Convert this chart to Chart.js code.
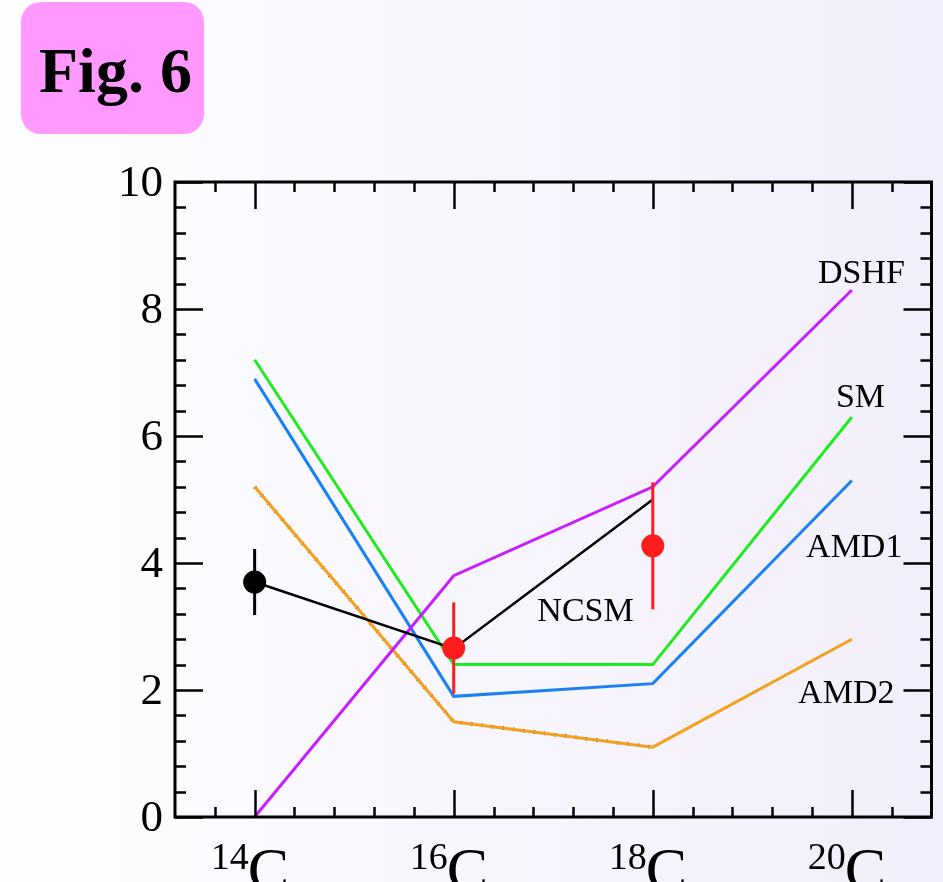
<!DOCTYPE html>
<html>
<head>
<meta charset="utf-8">
<script src="https://cdn.jsdelivr.net/npm/chart.js@4.4.0/dist/chart.umd.min.js"></script>
<style>
  html, body { margin: 0; padding: 0; background: #ffffff; }
  #wrap { width: 943px; height: 882px; }
</style>
</head>
<body>
<div id="wrap"><canvas id="chart" width="943" height="882"></canvas></div>
<script>
// isotopes on the x axis (mass number of C)
const nuclei = [14, 16, 18, 20];
const element = 'C';

// theory curves
const dshf = [0, 3.8, 5.2, 8.3];
const sm = [7.2, 2.4, 2.4, 6.3];
const amd1 = [6.9, 1.9, 2.1, 5.3];
const amd2 = [5.2, 1.5, 1.1, 2.8];
const amd2Shadow = [5.2, 1.5, 1.1];
const ncsm = [3.7, 2.65, 5.0];

// experiment
const expX = [14, 16, 18];
const expY = [3.7, 2.66, 4.27];
const expErr = [0.52, 0.72, 1.0];
const expColors = ['#000000', '#ff1c1c', '#ff1c1c'];

// axis ticks
const yMajor = [0, 2, 4, 6, 8, 10];
const xMin = 13.2, xMax = 20.8, yMin = 0, yMax = 10;

const pts = (xs, ys) => ys.map((v, i) => ({ x: xs[i], y: v }));
const serif = '"Liberation Serif", "Times New Roman", serif';

// curve labels, anchored in data coords (left edge, baseline)
const curveLabels = [
  { text: 'DSHF', x: 19.66, y: 8.41 },
  { text: 'SM', x: 19.84, y: 6.46 },
  { text: 'AMD1', x: 19.54, y: 4.09 },
  { text: 'AMD2', x: 19.46, y: 1.80 },
  { text: 'NCSM', x: 16.84, y: 3.09 },
];

const figPlugin = {
  id: 'fig',
  beforeDraw(chart) {
    const { ctx, width, height } = chart;
    ctx.save();
    const g = ctx.createLinearGradient(0, 0, width, 0);
    g.addColorStop(0, '#fefeff');
    g.addColorStop(1, '#f2eefb');
    ctx.fillStyle = g;
    ctx.fillRect(0, 0, width, height);

    // Fig. 6 badge
    const bx = 21, by = 2, bw = 183, bh = 132, r = 20;
    ctx.fillStyle = '#ff99ff';
    ctx.beginPath();
    ctx.moveTo(bx + r, by);
    ctx.arcTo(bx + bw, by, bx + bw, by + bh, r);
    ctx.arcTo(bx + bw, by + bh, bx, by + bh, r);
    ctx.arcTo(bx, by + bh, bx, by, r);
    ctx.arcTo(bx, by, bx + bw, by, r);
    ctx.closePath();
    ctx.fill();
    ctx.fillStyle = '#000';
    ctx.font = 'bold 64px ' + serif;
    ctx.textAlign = 'left';
    ctx.textBaseline = 'alphabetic';
    ctx.fillText('Fig. 6', 39, 92);
    ctx.restore();
  },
  beforeDatasetDraw(chart, args) {
    if (args.index !== 0) return;
    const { ctx } = chart;
    const xs = chart.scales.x, ys = chart.scales.y;
    ctx.save();
    ctx.lineWidth = 3;
    expX.forEach((x, i) => {
      const px = xs.getPixelForValue(x);
      ctx.strokeStyle = expColors[i];
      ctx.beginPath();
      ctx.moveTo(px, ys.getPixelForValue(expY[i] + expErr[i]));
      ctx.lineTo(px, ys.getPixelForValue(expY[i] - expErr[i]));
      ctx.stroke();
    });
    ctx.restore();
  },
  afterDraw(chart) {
    const { ctx, chartArea: a } = chart;
    const xs = chart.scales.x, ys = chart.scales.y;
    ctx.save();
    ctx.strokeStyle = '#000';
    ctx.lineWidth = 3;
    ctx.strokeRect(a.left, a.top, a.right - a.left, a.bottom - a.top);

    // inward ticks on all four sides
    ctx.lineWidth = 2.5;
    ctx.beginPath();
    for (let v = yMin; v <= yMax + 1e-6; v += 0.4) {
      const py = Math.round(ys.getPixelForValue(v)) + 0.5;
      const major = yMajor.some((m) => Math.abs(m - v) < 1e-6);
      const len = major ? 28 : 11;
      ctx.moveTo(a.left, py); ctx.lineTo(a.left + len, py);
      ctx.moveTo(a.right, py); ctx.lineTo(a.right - len, py);
    }
    for (let v = xMin + 0.4; v < xMax - 1e-6; v += 0.4) {
      const px = Math.round(xs.getPixelForValue(v)) + 0.5;
      const major = nuclei.some((m) => Math.abs(m - v) < 1e-6);
      const len = major ? 27 : 10;
      ctx.moveTo(px, a.bottom); ctx.lineTo(px, a.bottom - len);
      ctx.moveTo(px, a.top); ctx.lineTo(px, a.top + len);
    }
    ctx.stroke();

    // y tick labels
    ctx.fillStyle = '#000';
    ctx.font = '45px ' + serif;
    ctx.textAlign = 'right';
    ctx.textBaseline = 'middle';
    yMajor.forEach((v) => {
      ctx.fillText(String(v), a.left - 12, ys.getPixelForValue(v) + 2);
    });

    // x tick labels with superscript mass numbers
    ctx.textBaseline = 'alphabetic';
    nuclei.forEach((n) => {
      const px = xs.getPixelForValue(n);
      ctx.font = '38px ' + serif;
      ctx.textAlign = 'right';
      ctx.fillText(String(n), px - 6, 869);
      ctx.font = '62px ' + serif;
      ctx.textAlign = 'left';
      ctx.fillText(element, px - 7, 890);
    });

    // curve names
    ctx.font = '34px ' + serif;
    ctx.textAlign = 'left';
    curveLabels.forEach((l) => {
      ctx.fillText(l.text, xs.getPixelForValue(l.x), ys.getPixelForValue(l.y));
    });
    ctx.restore();
  },
};

const lineSet = (label, xs, ys, color, width, dash) => ({
  type: 'line',
  label,
  data: pts(xs, ys),
  borderColor: color,
  backgroundColor: color,
  borderWidth: width,
  borderDash: dash || [],
  pointRadius: 0,
  fill: false,
  tension: 0,
});

new Chart(document.getElementById('chart'), {
  type: 'scatter',
  data: {
    datasets: [
      {
        type: 'scatter',
        label: 'Exp',
        data: pts(expX, expY),
        pointRadius: 11.5,
        pointHoverRadius: 11.5,
        pointBackgroundColor: expColors,
        pointBorderColor: expColors,
        pointBorderWidth: 0,
      },
      lineSet('NCSM', expX, ncsm, '#000000', 2.5),
      lineSet('DSHF', nuclei, dshf, '#c81eff', 3),
      lineSet('AMD2', nuclei, amd2, '#f5a01c', 3),
      lineSet('AMD2 shadow', expX, amd2Shadow, '#000000', 3.4, [1.5, 9]),
      lineSet('AMD1', nuclei, amd1, '#1a80f5', 3),
      lineSet('SM', nuclei, sm, '#1eec1e', 3),
    ],
  },
  options: {
    responsive: false,
    animation: false,
    events: [],
    layout: { padding: { left: 175, top: 182, right: 10, bottom: 65 } },
    plugins: {
      legend: { display: false },
      tooltip: { enabled: false },
    },
    scales: {
      x: { type: 'linear', min: xMin, max: xMax, display: false },
      y: { type: 'linear', min: yMin, max: yMax, display: false },
    },
  },
  plugins: [figPlugin],
});
</script>
</body>
</html>
